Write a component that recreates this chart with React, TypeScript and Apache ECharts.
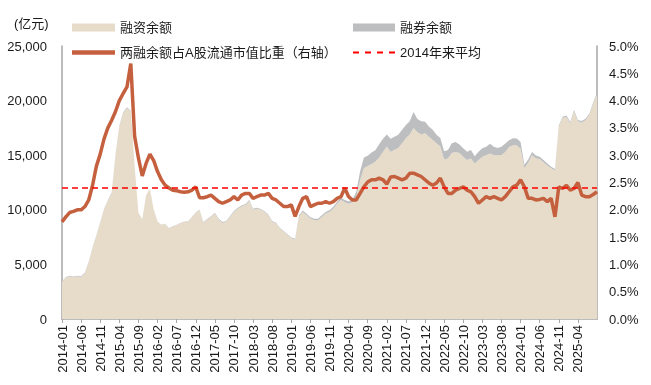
import React, { useEffect, useRef } from "react";
import * as echarts from "echarts";

// Monthly categories 2014-01 .. 2025-09
const months: string[] = [];
for (let k = 0; k < 141; k++) {
  const y = 2014 + Math.floor(k / 12);
  const m = (k % 12) + 1;
  months.push(`${y}-${m < 10 ? "0" + m : m}`);
}

// 融资余额 (亿元)
const financing: number[] = [
  3400, 3800, 3900, 3850, 3900, 3850, 4200, 5200, 6500, 7600, 8800, 10000,
  10800, 11500, 15000, 17600, 18800, 19300, 19000, 14000, 9700, 9100, 11300, 11900,
  10000, 8900, 8600, 8700, 8300, 8450, 8600, 8750, 8900, 8900, 9300, 9700,
  9950, 8800, 9100, 9350, 9650, 9100, 8800, 8900, 9350, 9800, 10100, 10300,
  10450, 10800, 10000, 10100, 10000, 9800, 9500, 8900, 8750, 8300, 8000, 7700,
  7400, 7250, 9350, 9800, 9500, 9200, 9050, 9050, 9350, 9650, 9800, 10100,
  10550, 10900, 10700, 10550, 10700, 11200, 12700, 13800, 14000, 14200, 14400, 14800,
  15300, 15800, 15300, 15500, 15650, 16100, 16550, 16900, 17500, 17100, 16900, 17000,
  16700, 16400, 16100, 15800, 14600, 14700, 15200, 15300, 15200, 14850, 14550, 14700,
  14250, 14550, 14850, 15000, 15150, 15000, 15000, 15000, 15300, 15750, 15900, 15900,
  15600, 13800, 14300, 15000, 14700, 14650, 14350, 14050, 13800, 13600, 17600, 18400,
  18500, 17900, 19000, 18100, 18000, 18200, 18700, 19700, 20600,
];

// 融券余额 (亿元)
const shortSelling: number[] = [
  40, 45, 50, 50, 55, 55, 60, 60, 65, 70, 70, 75,
  80, 85, 90, 100, 110, 100, 80, 60, 40, 30, 30, 30,
  30, 30, 30, 30, 30, 35, 35, 40, 40, 45, 50, 55,
  60, 60, 65, 70, 70, 75, 75, 80, 80, 85, 85, 90,
  90, 95, 90, 80, 75, 75, 70, 70, 65, 65, 60, 60,
  70, 90, 120, 140, 130, 120, 120, 130, 140, 150, 160, 170,
  180, 200, 190, 200, 250, 450, 800, 1000, 950, 1050, 1050, 1200,
  1200, 1100, 1200, 1200, 1220, 1220, 1220, 1220, 1450, 1220, 1220, 1070,
  930, 920, 780, 770, 760, 770, 900, 920, 780, 780, 770, 780,
  650, 760, 780, 780, 900, 780, 650, 780, 780, 620, 650, 640,
  610, 330, 300, 300, 280, 210, 200, 200, 150, 130, 130, 130,
  130, 130, 130, 130, 130, 130, 130, 130, 130,
];

// 两融余额占A股流通市值比重 (%)
const ratio: number[] = [
  1.78, 1.87, 1.95, 1.97, 2.0, 2.0, 2.06, 2.18, 2.45, 2.8, 3.02, 3.3,
  3.5, 3.64, 3.8, 4.0, 4.13, 4.25, 4.68, 3.35, 2.95, 2.62, 2.85, 3.02,
  2.9, 2.7, 2.55, 2.45, 2.4, 2.36, 2.35, 2.33, 2.32, 2.33, 2.36, 2.42,
  2.22, 2.22, 2.24, 2.27, 2.21, 2.15, 2.12, 2.15, 2.18, 2.24, 2.18, 2.27,
  2.3, 2.3, 2.21, 2.24, 2.27, 2.27, 2.3, 2.21, 2.18, 2.12, 2.06, 2.06,
  2.09, 1.88, 2.06, 2.21, 2.24, 2.06, 2.09, 2.12, 2.12, 2.15, 2.12, 2.15,
  2.21, 2.24, 2.4, 2.24, 2.18, 2.18, 2.3, 2.42, 2.51, 2.55, 2.55, 2.58,
  2.55, 2.47, 2.6, 2.61, 2.58, 2.55, 2.58, 2.67, 2.67, 2.64, 2.61, 2.55,
  2.49, 2.45, 2.49, 2.58, 2.42, 2.3, 2.3, 2.36, 2.39, 2.42, 2.36, 2.33,
  2.24, 2.12, 2.18, 2.24, 2.21, 2.24, 2.21, 2.18, 2.24, 2.33, 2.42, 2.45,
  2.55, 2.42, 2.21, 2.21, 2.18, 2.19, 2.21, 2.15, 2.21, 1.87, 2.42, 2.39,
  2.45, 2.36, 2.39, 2.5, 2.27, 2.24, 2.24, 2.28, 2.33,
];

// 2014年来平均 (%)
const averageSince2014 = 2.4;

const leftTicks = { min: 0, max: 25000, interval: 5000 };
const rightTicks = { min: 0, max: 5, interval: 0.5 };

const FONT = "'Liberation Sans', Arial, 'Noto Sans CJK SC', sans-serif";
const C_FIN = "#E7DCC9";
const C_SHORT = "#BDBEC0";
const C_RATIO = "#C5603F";
const C_AVG = "#FF0000";

const DASH_ICON =
  "path://M0,0H6V2H0Z M12,0H18V2H12Z M24,0H30V2H24Z M36,0H42V2H36Z";

const showTick = (idx: number) => idx % 5 === 0 && idx < 140;

export default function App() {
  const ref = useRef<HTMLDivElement>(null);
  useEffect(() => {
    if (!ref.current) return;
    const chart = echarts.init(ref.current, null, { renderer: "svg" });
    const legendText = { fontSize: 13, color: "#1a1a1a", fontFamily: FONT };
    chart.setOption({
      animation: false,
      textStyle: { fontFamily: FONT },
      grid: { left: 62, right: 54, top: 46, bottom: 66, containLabel: false },
      legend: [
        {
          data: [{ name: "融资余额", icon: "rect" }],
          left: 67, top: 16, itemWidth: 43, itemHeight: 8, textStyle: legendText,
        },
        {
          data: [{ name: "融券余额", icon: "rect" }],
          left: 348, top: 16, itemWidth: 42, itemHeight: 8, textStyle: legendText,
        },
        {
          data: [{ name: "两融余额占A股流通市值比重（右轴）", icon: "rect" }],
          left: 67, top: 41, itemWidth: 43, itemHeight: 4.5, textStyle: legendText,
        },
        {
          data: [{ name: "2014年来平均", icon: DASH_ICON }],
          left: 348, top: 41, itemWidth: 42, itemHeight: 2, textStyle: legendText,
        },
      ],
      graphic: [
        {
          type: "text",
          left: 14,
          top: 17,
          style: { text: "(亿元)", font: `13px ${FONT}`, fill: "#1a1a1a" },
        },
      ],
      xAxis: {
        type: "category",
        data: months,
        boundaryGap: false,
        axisLine: { show: true, lineStyle: { color: "#A6A6A6", width: 1.5 } },
        axisTick: { show: true, interval: showTick, length: 4, lineStyle: { color: "#A6A6A6" } },
        axisLabel: {
          interval: showTick,
          rotate: 90,
          margin: 6,
          fontSize: 13,
          color: "#1a1a1a",
          fontFamily: FONT,
        },
        splitLine: { show: false },
      },
      yAxis: [
        {
          type: "value",
          ...leftTicks,
          position: "left",
          axisLine: { show: true, lineStyle: { color: "#A6A6A6", width: 1.5 } },
          axisTick: { show: false },
          splitLine: { show: false },
          axisLabel: {
            margin: 15,
            fontSize: 13,
            color: "#1a1a1a",
            fontFamily: FONT,
            formatter: (v: number) => v.toLocaleString("en-US"),
          },
        },
        {
          type: "value",
          ...rightTicks,
          position: "right",
          axisLine: { show: true, lineStyle: { color: "#A6A6A6", width: 1.5 } },
          axisTick: { show: false },
          splitLine: { show: false },
          axisLabel: {
            margin: 12,
            fontSize: 13,
            color: "#1a1a1a",
            fontFamily: FONT,
            formatter: (v: number) => v.toFixed(1) + "%",
          },
        },
      ],
      series: [
        {
          name: "融资余额",
          type: "line",
          stack: "bal",
          data: financing,
          symbol: "none",
          lineStyle: { width: 0 },
          itemStyle: { color: C_FIN },
          areaStyle: { color: C_FIN, opacity: 1 },
          z: 1,
        },
        {
          name: "融券余额",
          type: "line",
          stack: "bal",
          data: shortSelling,
          symbol: "none",
          lineStyle: { width: 0 },
          itemStyle: { color: C_SHORT },
          areaStyle: { color: C_SHORT, opacity: 1 },
          z: 1,
        },
        {
          name: "两融余额占A股流通市值比重（右轴）",
          type: "line",
          yAxisIndex: 1,
          data: ratio,
          symbol: "none",
          lineStyle: { width: 3.5, color: C_RATIO },
          itemStyle: { color: C_RATIO },
          z: 3,
        },
        {
          name: "2014年来平均",
          type: "line",
          yAxisIndex: 1,
          data: months.map(() => averageSince2014),
          symbol: "none",
          lineStyle: { width: 1.6, color: C_AVG, type: [6, 4] },
          itemStyle: { color: C_AVG },
          z: 4,
        },
      ],
    });
    return () => chart.dispose();
  }, []);
  return (
    <div
      ref={ref}
      style={{ position: "fixed", left: 0, top: 0, width: 651, height: 385 }}
    />
  );
}
